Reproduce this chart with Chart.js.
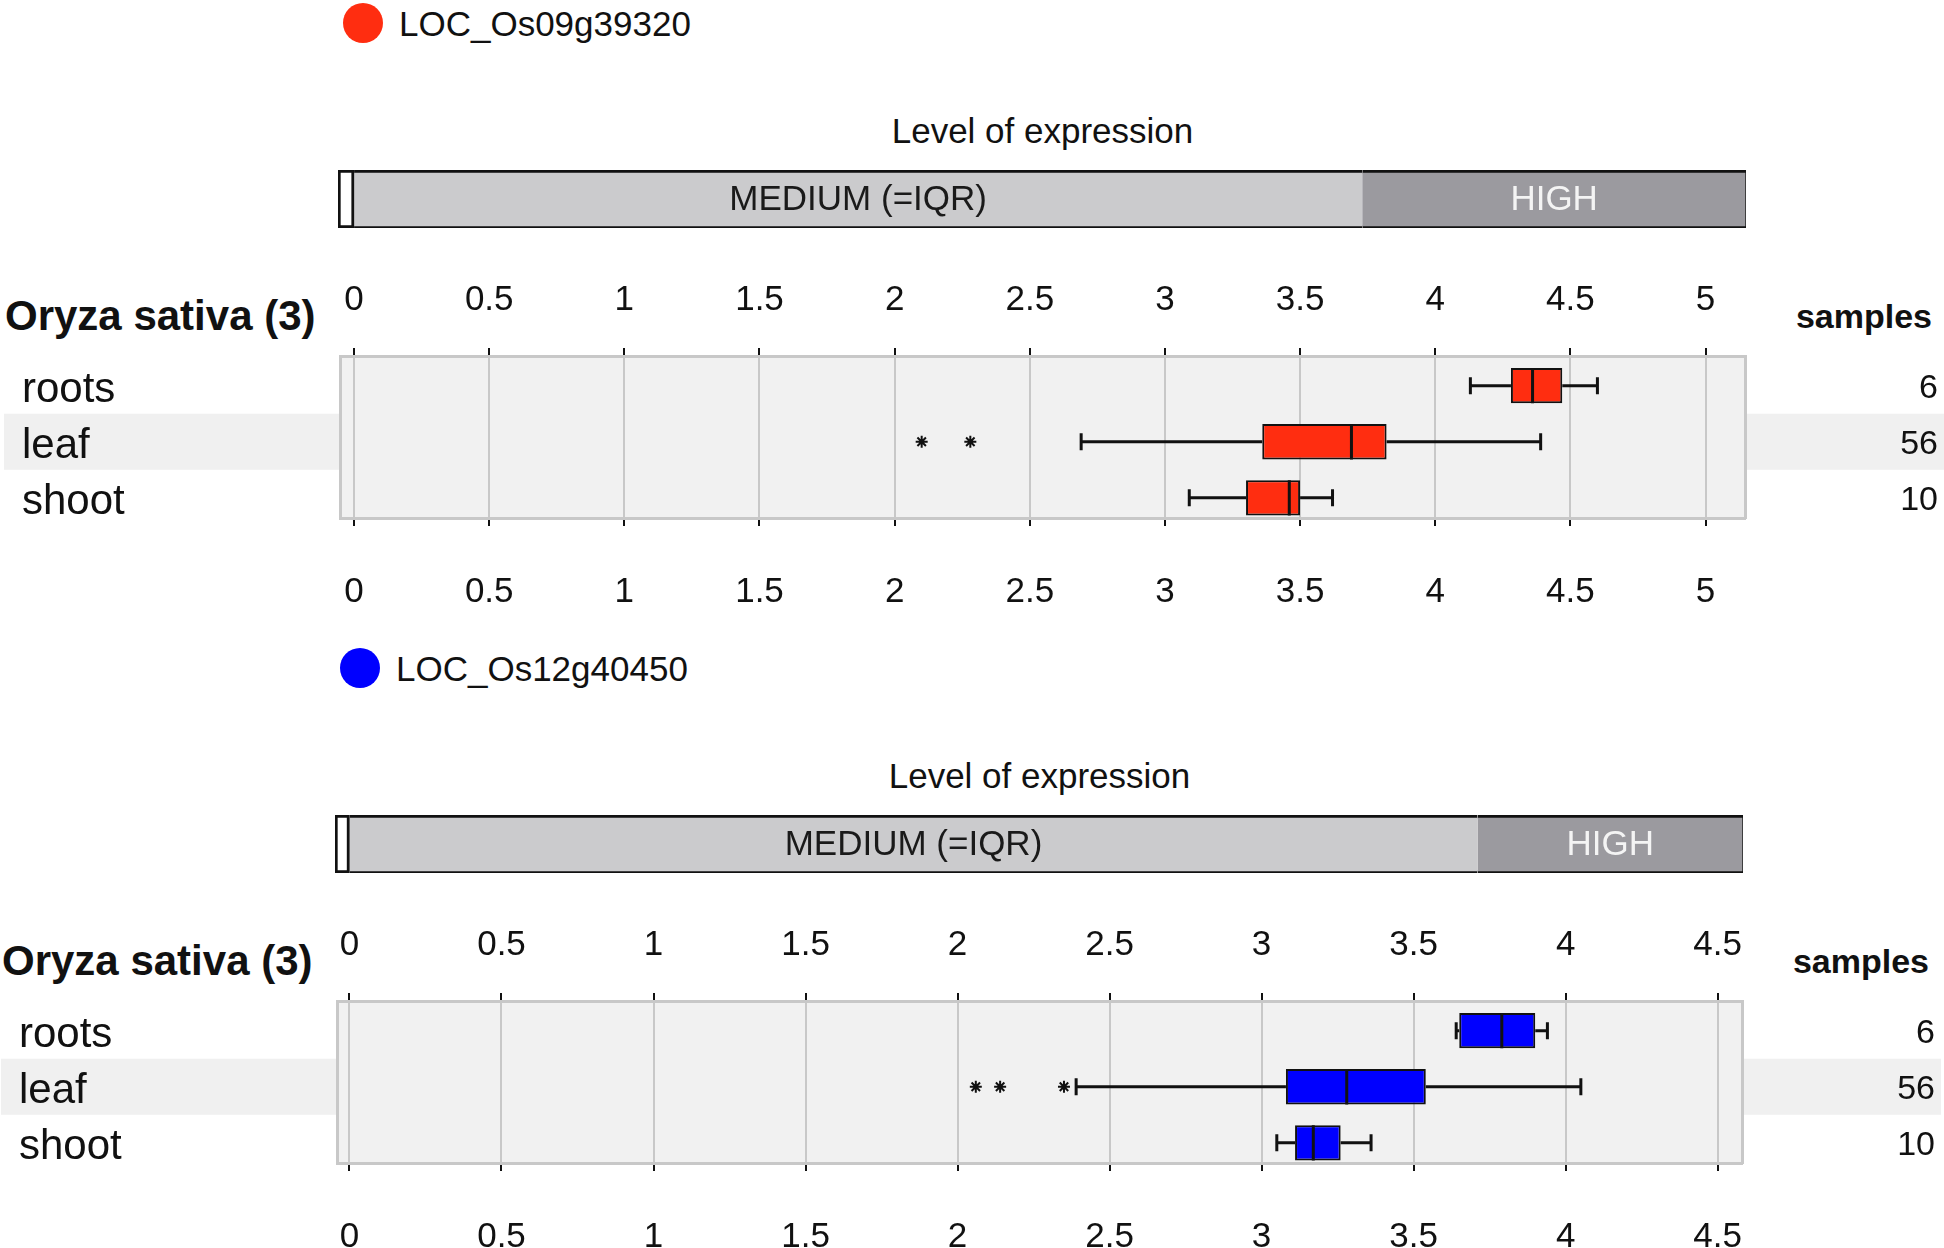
<!DOCTYPE html>
<html>
<head>
<meta charset="utf-8">
<title>Level of expression</title>
<script src="https://cdn.jsdelivr.net/npm/chart.js@4.4.0/dist/chart.umd.min.js"></script>
<style>
  html, body { margin:0; padding:0; background:#fff; }
  body { width:1944px; height:1248px; position:relative; overflow:hidden;
         font-family:'Liberation Sans', Arial, Helvetica, sans-serif; color:#111; }
  .panel { position:absolute; width:1944px; height:645px; }
  .dot { position:absolute; width:40px; height:40px; border-radius:50%; }
  .txt { position:absolute; line-height:1; white-space:nowrap; }
  canvas { position:absolute; }
</style>
</head>
<body>
<script>
// --- datos ---
const categories = ['roots', 'leaf', 'shoot'];
const sampleCounts = ['6', '56', '10'];
const bandRows = ['leaf'];
const species = 'Oryza sativa (3)';
const levelNames = ['', 'MEDIUM (=IQR)', 'HIGH'];

// LOC_Os09g39320
const g1Name = 'LOC_Os09g39320';
const g1Min    = [4.13, 2.69, 3.09];
const g1Q1     = [4.28, 3.36, 3.30];
const g1Median = [4.36, 3.69, 3.46];
const g1Q3     = [4.47, 3.82, 3.50];
const g1Max    = [4.60, 4.39, 3.62];
const g1OutX   = [2.10, 2.28];
const g1OutCat = ['leaf', 'leaf'];
const g1Ticks  = [0, 0.5, 1, 1.5, 2, 2.5, 3, 3.5, 4, 4.5, 5];
const g1Range  = [-0.052, 5.146];
const g1Levels = [0, 3.73];   // LOW | MEDIUM | HIGH

// LOC_Os12g40450
const g2Name = 'LOC_Os12g40450';
const g2Min    = [3.64, 2.39, 3.05];
const g2Q1     = [3.65, 3.08, 3.11];
const g2Median = [3.79, 3.28, 3.17];
const g2Q3     = [3.90, 3.54, 3.26];
const g2Max    = [3.94, 4.05, 3.36];
const g2OutX   = [2.06, 2.14, 2.35];
const g2OutCat = ['leaf', 'leaf', 'leaf'];
const g2Ticks  = [0, 0.5, 1, 1.5, 2, 2.5, 3, 3.5, 4, 4.5];
const g2Range  = [-0.041, 4.58];
const g2Levels = [0, 3.71];

// --- estilos ---
const FONT = "'Liberation Sans', Arial, Helvetica, sans-serif";
Chart.defaults.font.family = FONT;
Chart.defaults.color = '#111';
const levelColors = ['#ffffff', '#cbcbcd', '#9b9a9f'];
const levelTextColors = ['#111', '#1a1a1a', '#f4f4f4'];
const GRID = '#c8c8c8';
const ROW_RANGE = [-0.53, 2.36];   // la última fila queda algo recortada por el marco

// -------------------- plugins --------------------
const panelBg = {
  id: 'panelBg',
  beforeDraw(chart) {
    const {ctx, chartArea: a, scales: {y}} = chart;
    ctx.save();
    ctx.fillStyle = '#f0f0f0';
    bandRows.forEach(r => {
      const i = categories.indexOf(r);
      const y0 = y.getPixelForValue(i - 0.5), y1 = y.getPixelForValue(i + 0.5);
      ctx.fillRect(4, y0, chart.width - 4, y1 - y0);
    });
    ctx.fillStyle = '#f1f1f1';
    ctx.fillRect(a.left, a.top, a.right - a.left, a.bottom - a.top);
    ctx.restore();
  }
};

function whiskerPlugin(g){
  return {
    id: 'whiskers',
    afterDatasetsDraw(chart) {
      const {ctx, scales: {x, y}} = chart;
      const rowH = y.getPixelForValue(1) - y.getPixelForValue(0);
      const half = rowH * 0.63 / 2, cap = 8.5;
      ctx.save();
      ctx.strokeStyle = '#111';
      ctx.lineWidth = 3;
      categories.forEach((c, i) => {
        const yc = y.getPixelForValue(i);
        const [x0, x1, x3, x4] = [g.min[i], g.q1[i], g.q3[i], g.max[i]].map(v => x.getPixelForValue(v));
        const xm = x.getPixelForValue(g.median[i]);
        ctx.beginPath();
        ctx.moveTo(x0, yc); ctx.lineTo(x1, yc);
        ctx.moveTo(x3, yc); ctx.lineTo(x4, yc);
        ctx.moveTo(x0, yc - cap); ctx.lineTo(x0, yc + cap);
        ctx.moveTo(x4, yc - cap); ctx.lineTo(x4, yc + cap);
        ctx.moveTo(xm, yc - half); ctx.lineTo(xm, yc + half);
        ctx.stroke();
      });
      ctx.restore();
    }
  };
}

const levelText = {
  id: 'levelText',
  afterDatasetsDraw(chart) {
    const {ctx} = chart;
    ctx.save();
    ctx.font = '35px ' + FONT;
    ctx.textAlign = 'center';
    ctx.textBaseline = 'middle';
    chart.data.datasets.forEach((ds, k) => {
      if (!ds.label) return;
      const el = chart.getDatasetMeta(k).data[0];
      const cx = (el.x + el.base) / 2;
      ctx.fillStyle = levelTextColors[k];
      ctx.fillText(ds.label, cx, el.y + 1);
    });
    ctx.restore();
  }
};

// -------------------- construcción --------------------
function addText(parent, text, css){
  const d = document.createElement('div');
  d.className = 'txt';
  d.textContent = text;
  Object.assign(d.style, css);
  parent.appendChild(d);
  return d;
}

function addCanvas(parent, left, top, w, h){
  const c = document.createElement('canvas');
  c.width = w; c.height = h;
  Object.assign(c.style, {left: left + 'px', top: top + 'px', width: w + 'px', height: h + 'px'});
  parent.appendChild(c);
  return c;
}

function xScale(range, ticks, position, height, padding){
  return {
    type: 'linear', position, min: range[0], max: range[1],
    afterFit: s => { s.height = height; },
    afterBuildTicks: s => { s.ticks = ticks.map(v => ({value: v})); },
    ticks: { font: {size: 35}, color: '#111', padding, maxRotation: 0, autoSkip: false, callback: v => String(v) },
    grid: { color: GRID, lineWidth: 2, drawOnChartArea: position === 'bottom', tickLength: 8, tickColor: '#111', tickWidth: 2 },
    border: { color: GRID, width: 3 }
  };
}

function rowScale(position, labels, width, size, labelOffset){
  return {
    type: 'linear', position, reverse: true, offset: false,
    min: ROW_RANGE[0], max: ROW_RANGE[1],
    afterFit: s => { s.width = width; },
    afterBuildTicks: s => { s.ticks = labels.map((l, i) => ({value: i})); },
    ticks: {font: {size}, color: '#111', crossAlign: 'far', padding: 0, labelOffset, callback: (v, i) => labels[i]},
    grid: {drawOnChartArea: false, drawTicks: false, offset: false},
    border: {color: GRID, width: 3}
  };
}

function buildPanel(top, shift, name, color, g, ticks, range, levels){
  const p = document.createElement('div');
  p.className = 'panel';
  p.style.top = top + 'px';
  p.style.left = shift + 'px';
  document.body.appendChild(p);

  // leyenda
  const dot = document.createElement('div');
  dot.className = 'dot';
  Object.assign(dot.style, {left: '343px', top: '3px', background: color});
  p.appendChild(dot);
  addText(p, name, {left: '399px', top: '6px', fontSize: '35px'});

  addText(p, 'Level of expression', {left: '340px', width: '1405px', textAlign: 'center', top: '113px', fontSize: '35px'});
  addText(p, species, {left: '5px', top: '295px', fontSize: '42px', fontWeight: 'bold'});
  addText(p, 'samples', {right: '12px', top: '299px', fontSize: '34px', fontWeight: 'bold'});

  // barra de nivel de expresión (un poco más ancha que el marco)
  const ppu = 1405 / (range[1] - range[0]);
  const lvMin = range[0] - 2 / ppu, lvMax = range[1] + 1 / ppu;
  const edges = [lvMin, levels[0], levels[1], lvMax];
  new Chart(addCanvas(p, 338, 170, 1408, 58), {
    type: 'bar',
    data: {
      labels: ['level'],
      datasets: levelNames.map((n, k) => ({
        label: n,
        data: [[edges[k], edges[k + 1]]],
        backgroundColor: levelColors[k],
        borderColor: '#111',
        borderWidth: k === 0 ? 3 : {top: 3, bottom: 2, left: 0, right: k === 2 ? 1 : 0},
        borderSkipped: false,
        barPercentage: 1, categoryPercentage: 1, grouped: false
      }))
    },
    options: {
      indexAxis: 'y', animation: false, responsive: false,
      layout: {padding: 0},
      plugins: {legend: {display: false}, tooltip: {enabled: false}},
      scales: {
        x: {type: 'linear', min: lvMin, max: lvMax, display: false},
        y: {type: 'category', display: false}
      }
    },
    plugins: [levelText]
  });

  // diagrama de cajas
  new Chart(addCanvas(p, 0, 262, 1944, 360), {
    type: 'bar',
    data: {
      datasets: [
        {
          type: 'bar',
          data: categories.map((c, i) => ({y: i, x: [g.q1[i], g.q3[i]]})),
          backgroundColor: color, borderColor: '#111', borderWidth: 2, borderSkipped: false,
          barPercentage: 0.63, categoryPercentage: 1,
          xAxisID: 'x', yAxisID: 'y'
        },
        {
          type: 'scatter',
          data: g.outX.map((v, i) => ({x: v, y: categories.indexOf(g.outCat[i])})),
          pointStyle: 'star', radius: 6, borderColor: '#111', borderWidth: 2,
          xAxisID: 'x', yAxisID: 'y'
        }
      ]
    },
    options: {
      indexAxis: 'y', animation: false, responsive: false,
      layout: {padding: {left: 22, right: 6, top: 0, bottom: 0}},
      plugins: {legend: {display: false}, tooltip: {enabled: false}},
      scales: {
        x: xScale(range, ticks, 'bottom', 104, 45),
        xTop: xScale(range, ticks, 'top', 94, 27),
        y: rowScale('left', categories, 318, 42, 4.5),
        ySamples: rowScale('right', sampleCounts, 193, 34, 3)
      }
    },
    plugins: [panelBg, whiskerPlugin(g)]
  });
}

buildPanel(0, 0, g1Name, '#ff2d10',
  {min: g1Min, q1: g1Q1, median: g1Median, q3: g1Q3, max: g1Max, outX: g1OutX, outCat: g1OutCat},
  g1Ticks, g1Range, g1Levels);
buildPanel(645, -3, g2Name, '#0000ff',
  {min: g2Min, q1: g2Q1, median: g2Median, q3: g2Q3, max: g2Max, outX: g2OutX, outCat: g2OutCat},
  g2Ticks, g2Range, g2Levels);
</script>
</body>
</html>
